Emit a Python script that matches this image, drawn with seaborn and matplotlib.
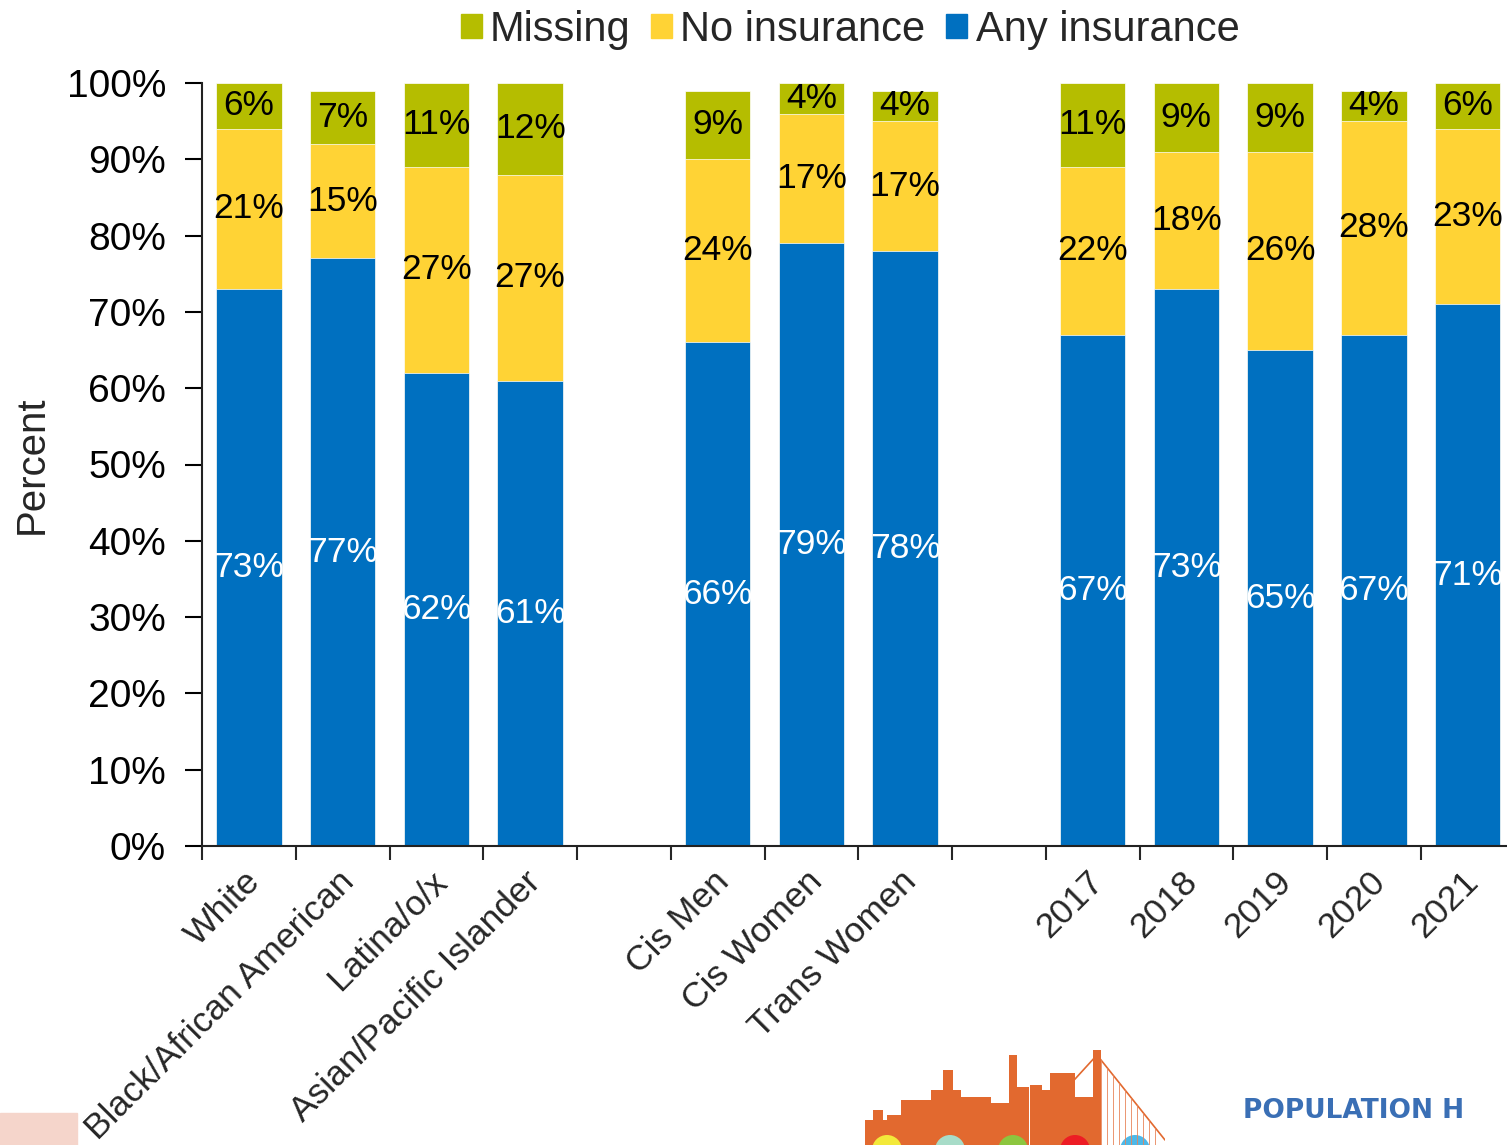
import numpy as np
import pandas as pd
import matplotlib
matplotlib.use("Agg")
import matplotlib.pyplot as plt
import matplotlib.patches as patches
import matplotlib.transforms as mtransforms
from matplotlib.patches import Patch
from matplotlib.ticker import FixedLocator
import seaborn as sns

# chart data (percent)
categories = ["White", "Black/African American", "Latina/o/x", "Asian/Pacific Islander", "gap1",
              "Cis Men", "Cis Women", "Trans Women", "gap2",
              "2017", "2018", "2019", "2020", "2021"]
any_ins = [73, 77, 62, 61, np.nan, 66, 79, 78, np.nan, 67, 73, 65, 67, 71]
no_ins = [21, 15, 27, 27, np.nan, 24, 17, 17, np.nan, 22, 18, 26, 28, 23]
missing = [6, 7, 11, 12, np.nan, 9, 4, 4, np.nan, 11, 9, 9, 4, 6]

c_any = "#0070C0"
c_no = "#FFD335"
c_miss = "#B5BD00"

df = pd.DataFrame({"cat": categories, "any": any_ins, "no": no_ins, "miss": missing})
df["any_no"] = df["any"] + df["no"]
df["total"] = df["any_no"] + df["miss"]

sns.set_style("ticks")
plt.rcParams["font.family"] = ["Liberation Sans", "DejaVu Sans"]

fig = plt.figure(figsize=(15.07, 11.45), dpi=100)
ax = fig.add_axes([202 / 1507, 1 - 846 / 1145, 1 - 202 / 1507, (846 - 83) / 1145])

bar_w = 0.7
for col, color in [("total", c_miss), ("any_no", c_no), ("any", c_any)]:
    sns.barplot(data=df.dropna(), x="cat", y=col, order=categories, color=color,
                width=bar_w, saturation=1, edgecolor="#ffffff", linewidth=0.5,
                errorbar=None, ax=ax)

# segment labels
for i, row in df.iterrows():
    if np.isnan(row["any"]):
        continue
    ax.text(i, row["any"] / 2, f"{row['any']:.0f}%", ha="center", va="center",
            color="white", fontsize=25.5)
    ax.text(i, row["any"] + row["no"] / 2, f"{row['no']:.0f}%", ha="center", va="center",
            color="black", fontsize=25.5)
    ax.text(i, row["any_no"] + row["miss"] / 2, f"{row['miss']:.0f}%", ha="center", va="center",
            color="black", fontsize=25.5)

ax.set_ylim(0, 100)
ax.set_xlim(-0.5, 13.42)
ax.set_yticks(np.arange(0, 101, 10))
ax.set_yticklabels([f"{v}%" for v in range(0, 101, 10)], fontsize=28)
ax.tick_params(axis="y", length=12, width=1.5, pad=14, colors="black")

# ticks at slot boundaries, labels at centers
n = len(categories)
ax.xaxis.set_major_locator(FixedLocator(np.arange(-0.5, n, 1.0)))
ax.set_xticklabels([])
ax.xaxis.set_minor_locator(FixedLocator(np.arange(n)))
labels = [c if not c.startswith("gap") else "" for c in categories]
ax.set_xticklabels(labels, minor=True, rotation=45, ha="right", va="center",
                   rotation_mode="anchor", fontsize=25.5)
ax.tick_params(axis="x", which="major", length=10, width=1.5, direction="out")
ax.tick_params(axis="x", which="minor", length=0, pad=22)
shift = mtransforms.ScaledTranslation(6 / 100, 0, fig.dpi_scale_trans)
for lbl in ax.get_xticklabels(minor=True):
    lbl.set_transform(lbl.get_transform() + shift)

ax.set_xlabel("")
ax.set_ylabel("Percent", fontsize=29, labelpad=11)
for s in ["top", "right"]:
    ax.spines[s].set_visible(False)
ax.spines["left"].set_linewidth(1.5)
ax.spines["bottom"].set_linewidth(1.5)
ax.spines["left"].set_color("#222222")
ax.spines["bottom"].set_color("#222222")

handles = [Patch(color=c_miss, label="Missing"),
           Patch(color=c_no, label="No insurance"),
           Patch(color=c_any, label="Any insurance")]
fig.legend(handles=handles, loc="center", bbox_to_anchor=(850 / 1507, 1 - 30 / 1145),
           ncol=3, frameon=False, fontsize=30, handlelength=0.5, handleheight=0.5,
           handletextpad=0.2, columnspacing=0.5, borderaxespad=0)

# decorations: footer logo pieces
fig.patches.append(patches.Rectangle((0, 0), 77 / 1507, 32 / 1145, transform=fig.transFigure,
                                     color="#F5D5CB", zorder=0))
lax = fig.add_axes([865 / 1507, 0, 300 / 1507, 100 / 1145])
lax.set_xlim(0, 300)
lax.set_ylim(0, 100)
lax.axis("off")
bldgs = [(0, 22, 25), (8, 10, 35), (22, 14, 30), (36, 30, 45), (66, 30, 55), (78, 10, 75),
         (96, 30, 48), (124, 20, 42), (144, 8, 90), (152, 12, 58), (165, 12, 60),
         (177, 10, 55), (185, 25, 72), (210, 22, 48), (228, 8, 95)]
for x0, w, h in bldgs:
    lax.add_patch(patches.Rectangle((x0, 0), w, h, color="#E2692F", lw=0))
lax.plot([232, 300], [90, 5], color="#E2692F", lw=1.2)
lax.plot([232, 200], [90, 55], color="#E2692F", lw=1.2)
for xv in range(236, 296, 6):
    lax.plot([xv, xv], [0, 90 - (xv - 232) * 1.25], color="#E8845A", lw=0.6)
for cx, cc in [(22, "#F3E93A"), (85, "#A8DCC8"), (148, "#8CC63F"), (210, "#ED1C24"),
               (270, "#4DB8E8")]:
    lax.add_patch(patches.Circle((cx, -5), 15, color=cc, lw=0))

fig.text(1243 / 1507, 1 - 1111 / 1145, "POPULATION H", color="#3A6FB5",
         fontsize=19, fontweight="bold", ha="left", va="center", family="DejaVu Sans")

fig.savefig("out.png", dpi=100)
